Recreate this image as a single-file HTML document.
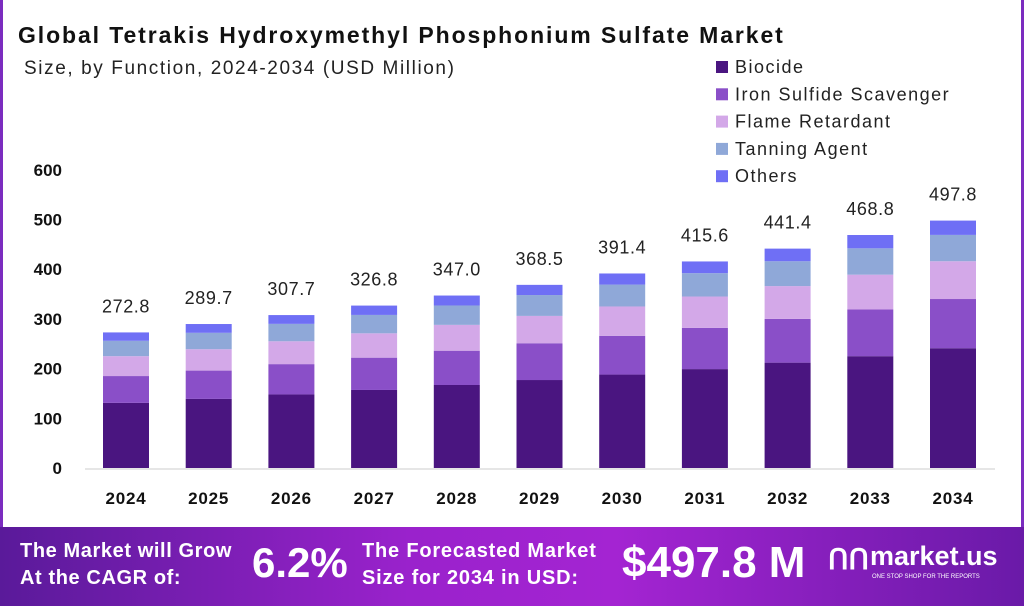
<!DOCTYPE html>
<html><head><meta charset="utf-8"><style>
body{margin:0;width:1024px;height:616px;background:#fff;font-family:"Liberation Sans",sans-serif;overflow:hidden;position:relative}
.t{position:absolute;white-space:nowrap}
</style></head><body>
<div style="position:absolute;left:0;top:0;width:3px;height:528px;background:#7b2cbf"></div>
<div style="position:absolute;right:0;top:0;width:3px;height:528px;background:#7b2cbf"></div>
<div class="t" style="left:18px;top:22px;font-size:23px;font-weight:bold;color:#111;letter-spacing:1.9px">Global Tetrakis Hydroxymethyl Phosphonium Sulfate Market</div>
<div class="t" style="left:24px;top:58px;font-size:19px;color:#222;letter-spacing:1.6px">Size, by Function, 2024-2034 (USD Million)</div>
<svg id="chart" width="1024" height="616" style="position:absolute;left:0;top:0"></svg>
<div style="position:absolute;left:0;top:527px;width:1024px;height:79px;background:linear-gradient(90deg,#5a1a9a 0%,#9a22cc 40%,#a424d2 60%,#6a1aa8 100%)">
<div class="t" style="left:20px;top:11px;font-size:20px;font-weight:bold;color:#fff;line-height:27px;letter-spacing:0.6px">The Market will Grow<br>At the CAGR of:</div>
<div class="t" style="left:252px;top:12px;font-size:42px;font-weight:bold;color:#fff">6.2%</div>
<div class="t" style="left:362px;top:11px;font-size:20px;font-weight:bold;color:#fff;line-height:27px;letter-spacing:0.8px">The Forecasted Market<br>Size for 2034 in USD:</div>
<div class="t" style="left:622px;top:11px;font-size:44px;font-weight:bold;color:#fff">$497.8 M</div>
<div class="t" style="left:828px;top:16px;font-size:28px;font-weight:bold;color:#fff">ՈՈ</div>
<div class="t" style="left:870px;top:14px;font-size:27px;font-weight:bold;color:#fff">market.us</div>
<div class="t" style="left:872px;top:47px;font-size:6px;color:#fff">ONE STOP SHOP FOR THE REPORTS</div>
</div>
<script>
const years=["2024","2025","2026","2027","2028","2029","2030","2031","2032","2033","2034"];
const totals=[272.8,289.7,307.7,326.8,347.0,368.5,391.4,415.6,441.4,468.8,497.8];
const biocide=[131,139,148,157,167,177,188,199,212,225,241];
const ironSulfide=[54,57,61,65,69,74,78,83,88,94,99];
const flameRetardant=[40,43,46,49,52,55,59,63,66,70,76];
const tanningAgent=[31,33,35,37,39,42,44,47,50,53,53];
const others=[16.8,17.7,17.7,18.8,20,20.5,22.4,23.6,25.4,26.8,28.8];
const yTicks=[0,100,200,300,400,500,600];
const seriesNames=["Biocide","Iron Sulfide Scavenger","Flame Retardant","Tanning Agent","Others"];
const colors=["#4a1580","#8a4fc8","#d3a8e8","#8fa8d8","#6f6ff5"];
const series=[biocide,ironSulfide,flameRetardant,tanningAgent,others];
const svg=document.getElementById('chart');const NS="http://www.w3.org/2000/svg";
const y0=468,ppu=0.497;const y=v=>y0-v*ppu;const x=i=>126+i*82.7;const bw=46;
function mk(t,a){const e=document.createElementNS(NS,t);for(const k in a)e.setAttribute(k,a[k]);svg.appendChild(e);return e;}
const ax=mk('line',{x1:85,x2:995,y1:y0+1,y2:y0+1,stroke:'#ccc','stroke-width':1});


yTicks.forEach(v=>{const t=mk('text',{x:62,y:y(v)+6,'text-anchor':'end','font-size':17,'font-weight':'bold',fill:'#111','font-family':'Liberation Sans'});t.textContent=v;

});
years.forEach((yr,i)=>{let acc=0;
series.forEach((s,j)=>{const r=mk('rect',{x:x(i)-bw/2,y:y(acc+s[i]),width:bw,height:s[i]*ppu,fill:colors[j]});acc+=s[i];

});
const t=mk('text',{x:x(i),y:y(totals[i])-20,'text-anchor':'middle','font-size':18,fill:'#222','font-family':'Liberation Sans','letter-spacing':'0.6'});t.textContent=totals[i].toFixed(1);


const l=mk('text',{x:x(i),y:504,'text-anchor':'middle','font-size':17,'font-weight':'bold',fill:'#111','font-family':'Liberation Sans','letter-spacing':'0.8'});l.textContent=yr;

});
seriesNames.forEach((n,j)=>{const ly=67+j*27.3;
const r=mk('rect',{x:716,y:ly-6,width:12,height:12,fill:colors[j]});


const t=mk('text',{x:735,y:ly+6,'font-size':18,fill:'#222','font-family':'Liberation Sans','letter-spacing':'1.5'});t.textContent=n;

});
</script>
</body></html>
